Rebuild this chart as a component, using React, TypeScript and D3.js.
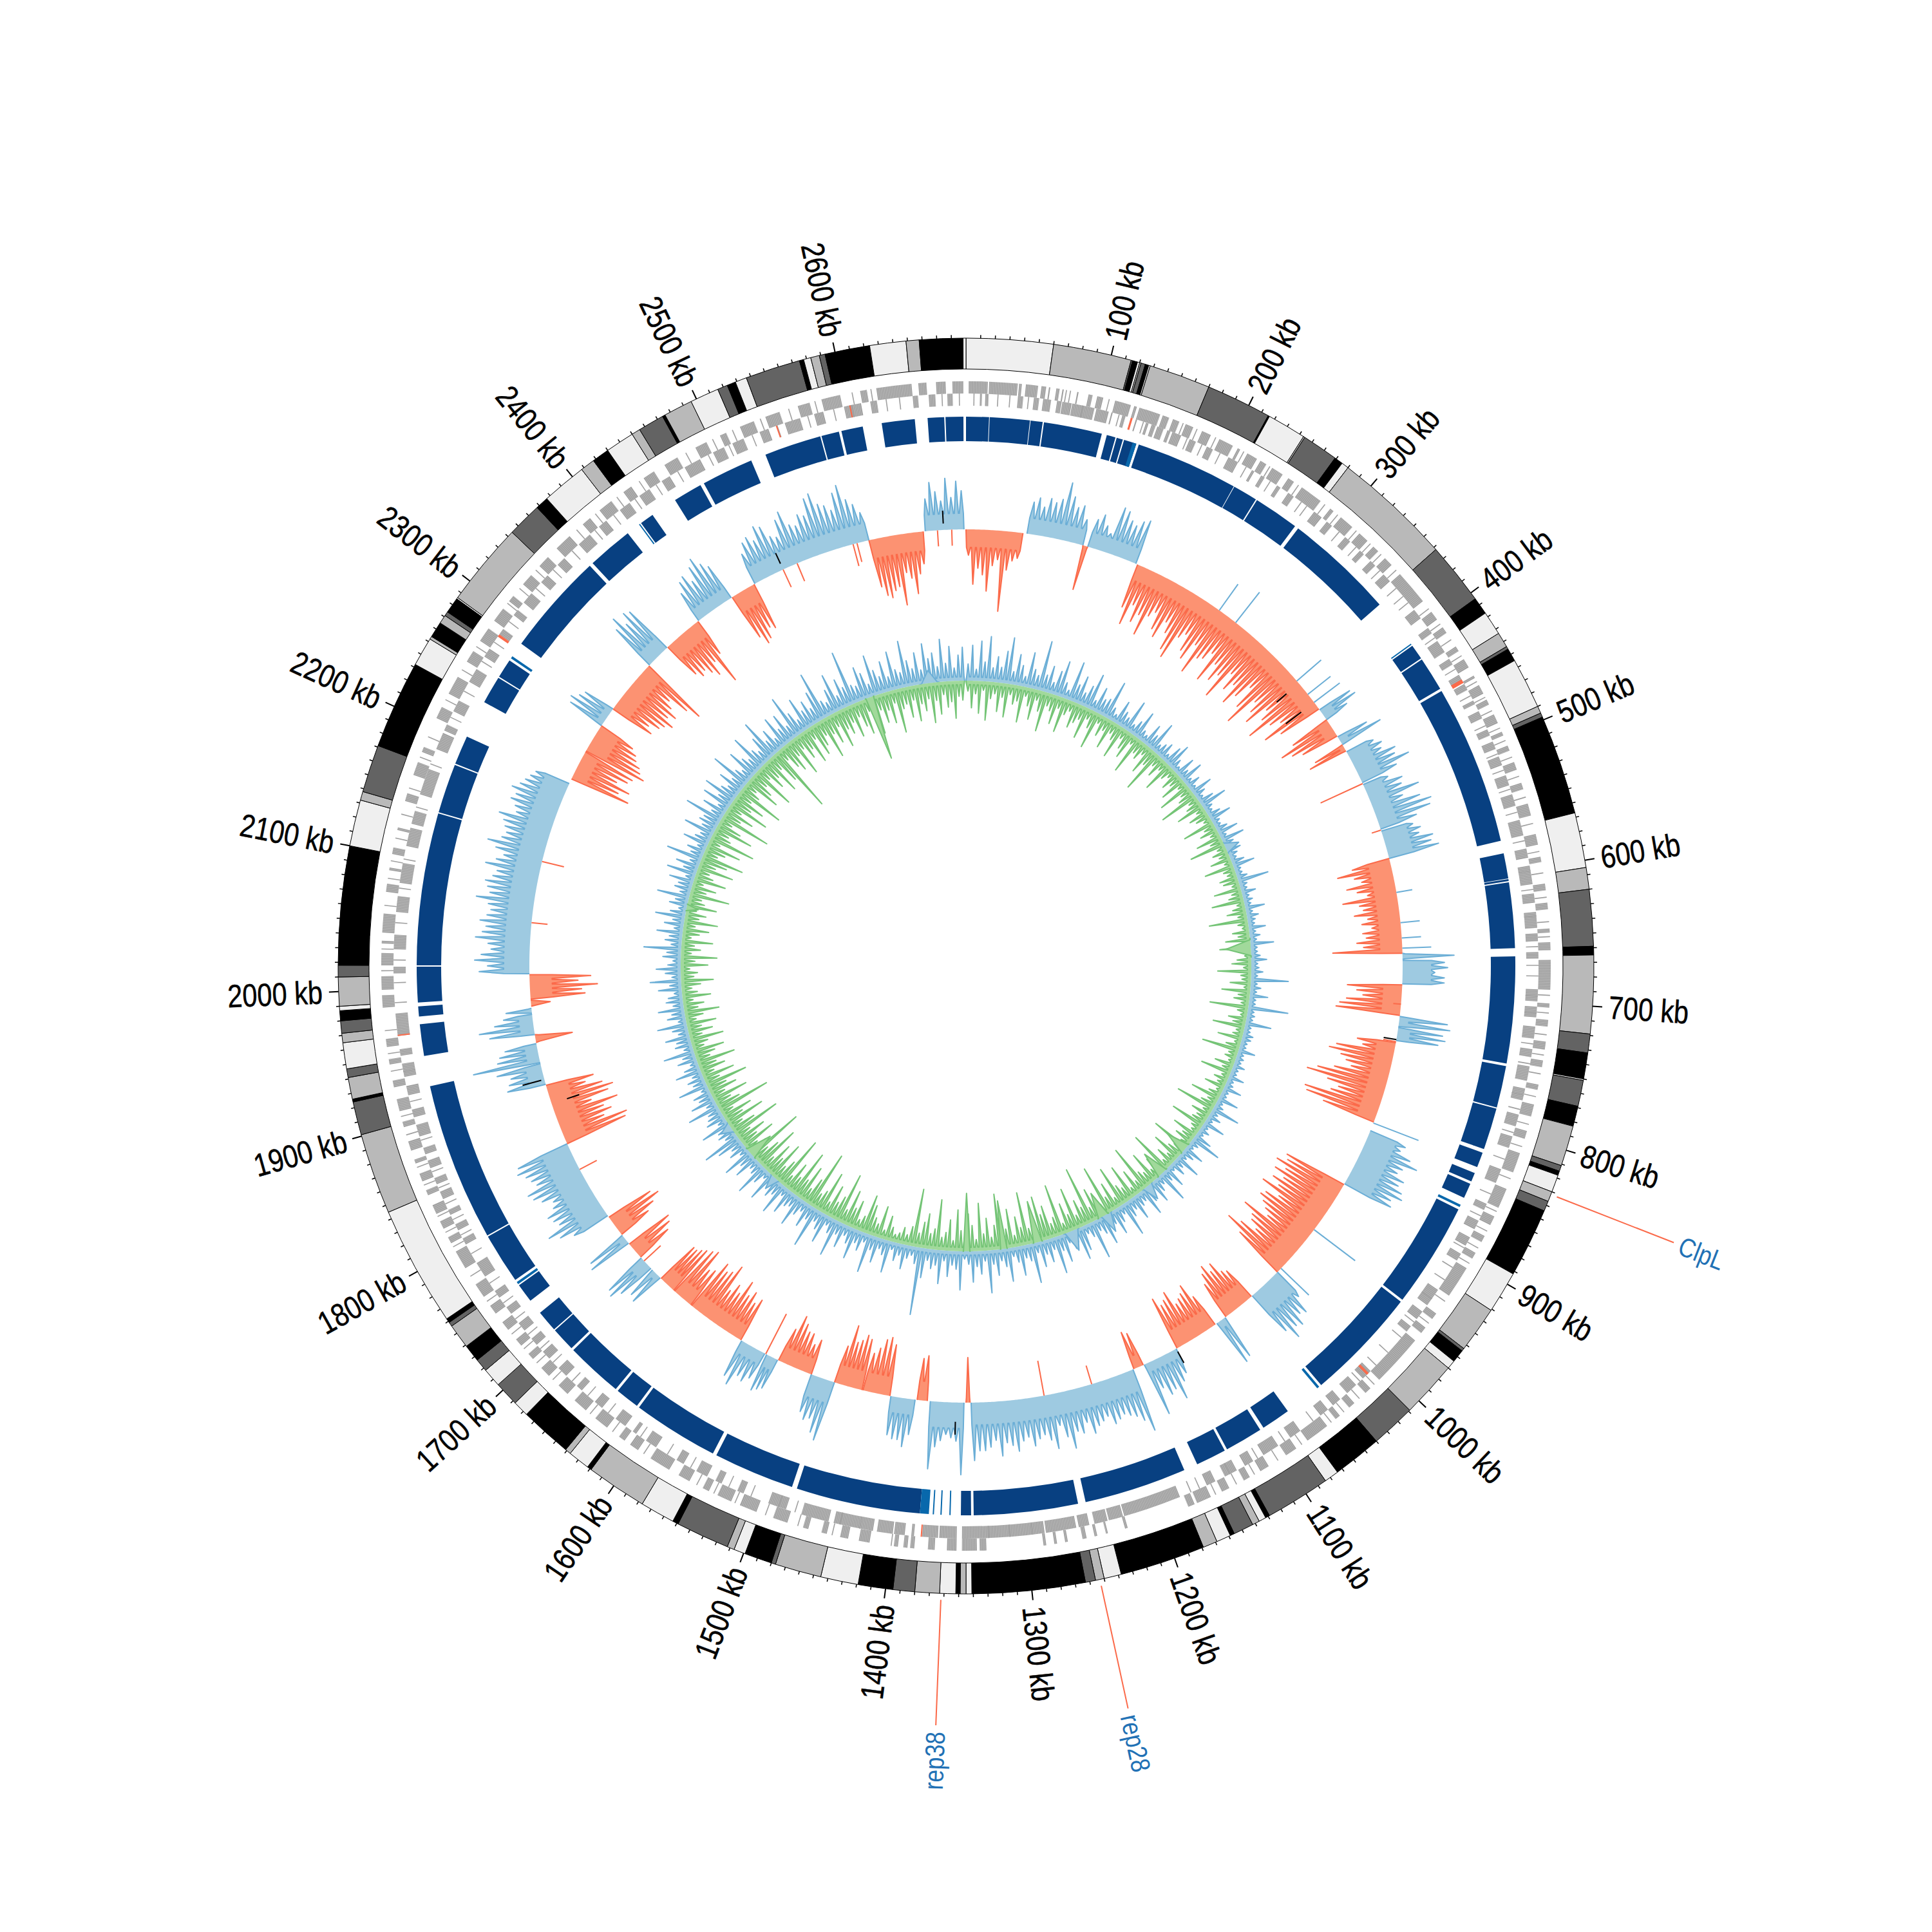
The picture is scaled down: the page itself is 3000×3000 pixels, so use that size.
import * as d3 from "d3";

const genomeKb = 2690;
const tickKb = d3.range(10, genomeKb, 10);
const labelKb = d3.range(100, 2700, 100);

// ideogram bands: edges in kb and shade index per band
const bandEdges = [0,60,114,115,118.5,120,121,124,126.5,127.5,170,215,216,243,244,269,275,280,362,405,417,433.5,444,446,455,490,495,498,567,605,620,659,665,719,732,750,751,769,783,811,815,818,830,837,844,892,921,953,955,964,970,1009,1040,1074,1084,1129,1132,1137,1142,1156,1159,1169,1179,1238,1250,1256,1263,1341,1345,1349,1352,1363,1380,1395,1419,1445,1477,1480,1499,1507,1512,1549,1553,1577,1619,1622,1637,1641,1677,1688,1705,1718,1727,1739,1756,1759,1762,1845,1901,1924,1926,1941,1947,1965,1971.5,1980,1987,1990,2010,2018,2100,2132,2138,2171,2232,2252,2254,2265,2271,2274,2285,2286,2344,2368,2377,2408,2418,2430,2450,2456,2474,2476,2496,2516,2523,2529,2537,2575,2578,2583,2589,2593,2624,2649,2658,2688,2690];
const bandShades = [0,1,2,3,0,1,2,3,0,1,2,3,0,1,2,3,0,1,2,3,0,1,2,3,0,1,2,3,0,1,2,3,1,2,3,0,2,3,1,2,3,0,1,2,3,0,1,2,3,0,1,2,3,0,2,3,0,1,2,3,0,1,3,0,1,2,3,0,1,3,0,1,2,3,0,1,2,3,0,1,2,3,0,1,3,0,1,3,0,2,0,2,3,1,2,3,0,1,2,3,1,2,0,1,2,3,0,1,2,3,0,1,2,3,0,1,3,1,2,3,0,1,2,3,0,1,3,0,1,2,3,1,0,2,3,0,2,3,0,1,2,3,0,1,3,0];
const shadeColors = ["#efefef", "#b9b9b9", "#636363", "#000000"];

// gene blocks, kb
const forwardGenes = [[2,16],[17,38],[39,41],[44,53],[55.5,59],[61,62],[66.5,69],[71,72],[82,83],[90.5,93.5],[97,101.5],[110.5,122.5],[125,127],[129,145],[147,152],[155,160],[165,171],[178,185],[192,203],[207,209],[215,223],[226,231],[236,245],[250,255],[262,279],[288,291],[298,309],[316,324],[330,335],[342,349],[358,384],[394,401],[408,413],[425,429],[436,443],[450,452],[458,465],[470,474],[482,489],[496,499],[507,511],[520,526],[536,541],[552,561],[575,583],[592,596],[612,617],[626,631],[645,648],[655,661],[668,690],[700,703],[712,717],[728,734],[742,747],[760,764],[775,784],[795,801],[812,827],[840,855],[862,869],[878,883],[892,897],[905,929],[945,950],[958,963],[970,1009],[1018,1023],[1034,1039],[1048,1052],[1060,1078],[1088,1097],[1112,1119],[1128,1133],[1145,1151],[1160,1171],[1173,1178],[1225,1227],[1240,1241.5],[1248,1250],[1256,1259],[1270,1272],[1278,1280],[1286,1288],[1330,1335],[1337,1348],[1352,1359],[1368,1373],[1383,1386],[1388,1391],[1395,1398],[1416,1424],[1432,1438],[1448,1452],[1462,1466],[1478,1489],[1502,1515],[1522,1533],[1540,1545],[1556,1565],[1573,1589],[1600,1607],[1612,1617],[1628,1639],[1648,1659],[1666,1675],[1685,1693],[1702,1707],[1715,1721],[1730,1737],[1745,1752],[1760,1771],[1785,1799],[1806,1811],[1818,1824],[1830,1837],[1845,1849],[1856,1862],[1870,1873],[1880,1887],[1898,1902],[1910,1919],[1928,1933],[1945,1949],[1958,1964],[1987,1996],[2000,2010],[2018,2027],[2034,2036],[2042,2056],[2072,2078],[2088,2090],[2100,2105],[2118,2120],[2140,2146],[2160,2170],[2178,2182],[2205,2214],[2225,2239],[2252,2261],[2270,2281],[2288,2299],[2306,2311],[2322,2331],[2340,2349],[2358,2371],[2384,2391],[2400,2411],[2422,2429],[2440,2449],[2458,2469],[2484,2493],[2504,2509],[2520,2531],[2540,2551],[2565,2574],[2583,2597],[2612,2617],[2624,2650],[2655,2661],[2668,2675],[2680,2688]];
const reverseGenes = [[10.5,12],[14.5,17],[39,43],[51,55],[58,64],[68.5,72],[72.5,79.5],[80,97],[98.5,108],[110,111],[118.5,121],[129,130],[137,139],[141.5,144.5],[146,151],[154,156.5],[158,165],[172,177],[186,191],[204,212],[224,226],[232,235],[246,249],[256,261],[280,287],[292,297],[310,315],[325,329],[336,341],[350,357],[385,393],[402,407],[414,424],[430,435],[444,449],[452,457],[466,469],[475,481],[490,495],[500,506],[512,519],[527,535],[542,551],[562,574],[584,591],[597,611],[618,625],[632,644],[648,654],[662,667],[690,699],[703,711],[718,727],[735,741],[748,759],[765,774],[785,794],[802,811],[828,839],[856,861],[870,877],[884,891],[898,904],[930,944],[950,957],[964,969],[1009,1017],[1024,1033],[1040,1047],[1052,1059],[1078,1087],[1098,1111],[1120,1127],[1134,1144],[1152,1159],[1181,1225],[1226,1237],[1238,1248],[1252,1260],[1262,1285],[1286,1348],[1352,1365],[1366,1378],[1384,1386],[1391,1399],[1400,1412],[1415,1445],[1449,1470],[1482,1496],[1516,1521],[1534,1539],[1546,1555],[1566,1572],[1590,1599],[1608,1611],[1618,1627],[1640,1647],[1660,1665],[1676,1684],[1694,1701],[1708,1714],[1722,1729],[1738,1744],[1753,1759],[1772,1784],[1800,1805],[1812,1817],[1825,1829],[1838,1844],[1850,1855],[1863,1869],[1874,1879],[1888,1897],[1903,1909],[1920,1927],[1934,1944],[1950,1955],[1965,1982],[2012,2017],[2030,2041],[2058,2070],[2080,2095],[2108,2122],[2125,2135],[2148,2168],[2184,2197],[2199,2204],[2215,2224],[2240,2251],[2262,2269],[2282,2287],[2300,2305],[2312,2321],[2332,2339],[2350,2357],[2372,2383],[2392,2399],[2412,2421],[2430,2439],[2450,2457],[2470,2483],[2494,2503],[2510,2519],[2532,2539],[2552,2564],[2575,2582],[2598,2611],[2618,2623],[2650,2654],[2662,2667],[2676,2680]];
const redGenes = [[125,126.5],[448,451],[1378,1379],[1011,1013],[2545,2546],[2602,2603],[2280,2282],[1965,1966]];
// short stray genes seen between the blocks: kb on forward, kb on reverse
const looseForward = [74,77,106,163,174,189,212,234,259,283,295,313,327,338,354,391,405,419,433,455,468,479,493,503,516,531,547,567,588,604,622,640,651,694,707,723,738,752,769,790,807,832,858,874,888,901,934,954,1014,1029,1044,1056,1083,1104,1124,1139,1156,1400,1444,1470,1495,1519,1536,1550,1595,1623,1644,1681,1698,1712,1726,1756,1778,1803,1815,1828,1853,1867,1892,1906,1940,1953,1970,2014,2030,2062,2082,2095,2112,2130,2150,2174,2190,2220,2245,2265,2304,2318,2336,2378,2396,2416,2436,2476,2498,2514,2536,2558,2578,2606,2620];
const looseReverse = [6,24,33,47,88,116,135,170,182,197,219,240,268,273,304,321,346,364,372,378,411,439,462,487,510,523,538,556,578,601,615,635,658,672,680,695,708,731,746,770,781,799,820,848,866,893,910,921,938,960,975,990,1003,1020,1066,1092,1116,1140,1165,1172,1295,1312,1328,1425,1440,1475,1488,1510,1528,1560,1580,1604,1634,1654,1670,1690,1704,1718,1733,1748,1766,1792,1808,1821,1834,1847,1860,1885,1915,1938,1990,2005,2022,2050,2076,2098,2138,2172,2210,2232,2258,2275,2294,2326,2345,2365,2388,2406,2426,2445,2464,2490,2507,2526,2546,2570,2590,2604,2630,2640,2672,2685];

// conserved blocks, kb
const conservedBlocks = [[0,18],[18.5,50],[50.5,60],[61,107],[111,118],[119,124],[125,135],[137,218],[218.5,238],[239,275],[278,365],[406,418],[419,446],[448,574],[584,604],[604.5,606],[607,658.6],[665,749],[751,784],[785,818],[821,833],[838,845],[847,859],[869,952],[954,1044],[1077,1100],[1103,1133],[1135,1159],[1170,1251],[1257,1339],[1341,1349],[1381,1479],[1483,1547],[1550,1618],[1620,1639],[1641,1686],[1688,1707],[1708,1725],[1737,1752],[1757,1797],[1798,1923],[1947,1972],[1978,1986],[1989,2017],[2018,2138],[2139,2178],[2179,2202],[2232,2254],[2255,2270],[2286,2367],[2370,2406],[2419,2430],[2451,2474],[2477,2518],[2530,2575],[2576,2590],[2592,2609],[2624,2650],[2660,2673],[2674,2688]];
const conservedThin = [[132,135],[404,405],[865,867],[1046,1048],[1357,1358],[1364,1365],[1370,1371],[1374,1381],[1753,1755],[2272,2274],[2417,2418]];

type MidSegment = [number, number, number, number, number[]];
// start kb, end kb, direction, fill depth, spike heights
const midSegments: MidSegment[] = [
  [0,56,-1,28,[40,85,60,70,95,55,45,125,60,45,40]],
  [60,116,1,25,[50,58,45,60,55,62,90,70,55,60,40]],
  [116,121,-1,4,[70]],
  [121,171,1,24,[45,55,40,30,75,72,60,55,65,70]],
  [173,403,-1,25,[70,95,60,85,70,100,65,55,80,90,60,75,100,110,70,60,85,95,65,110,80,75,60,105,70,95,80,115,65,90,75,105,85,60,95,120,70,85,100,65,80,110,75,60,95,70]],
  [404,416,1,20,[55,60,40]],
  [416,435,-1,20,[65,90,75,60]],
  [436,445,1,15,[50,70]],
  [445,452,-1,8,[50,62]],
  [453,487,1,35,[45,55,50,70,65,85,60]],
  [489,536,1,30,[40,60,55,80,50,75,90,85,60]],
  [538,566,1,40,[50,60,55,75,70,80]],
  [566,660,-1,35,[60,85,60,50,75,60,45,85,60,55,70,50,60,45,60,55,70,60,108]],
  [660,666,1,4,[80]],
  [667,690,1,45,[65,70,50,65,65]],
  [691,721,-1,30,[85,70,60,85,95,100]],
  [722,732,1,15,[75,80]],
  [733,746,1,20,[70,75,65]],
  [748,829,-1,30,[60,50,90,100,80,70,60,85,110,125,90,70,80,120,115,85]],
  [838,896,1,45,[60,55,75,90,70,65,80,75,85,90,75,80]],
  [897,1005,-1,35,[100,95,110,90,105,85,100,85,110,75,95,100,90,80,70,110,90,85,70,95,115,85]],
  [1005,1039,1,40,[50,75,70,85,80,95,75]],
  [1040,1072,-1,30,[55,60,80,70,85,75,60]],
  [1073,1083,1,12,[70,75]],
  [1085,1129,-1,30,[55,80,70,65,60,85,75,70,85]],
  [1130,1165,1,15,[40,50,75,55,60,45,85]],
  [1166,1176,-1,20,[55,60]],
  [1177,1340,1,35,[100,80,70,65,60,65,70,55,60,65,75,55,70,65,90,70,50,85,70,60,65,75,60,65,80,70,65,85,60,70,75,75,90]],
  [1341,1345,-1,8,[70]],
  [1347,1380,1,40,[112,60,55,50,60,70,105]],
  [1383,1393,-1,30,[70,65]],
  [1395,1419,1,25,[55,75,65,65,60]],
  [1420,1447,-1,30,[80,90,85,70,60]],
  [1448,1476,-1,30,[80,85,75,70,95,60]],
  [1476,1500,1,35,[95,85,65,70,60]],
  [1500,1535,-1,25,[55,45,60,60,70,80,55]],
  [1536,1548,1,20,[50,55,60]],
  [1550,1576,1,20,[45,55,50,70,60]],
  [1577,1636,-1,25,[70,60,75,65,85,60,70,55,95,80,75,85]],
  [1637,1658,-1,25,[65,60,90,85]],
  [1659,1676,-1,25,[80,75,70,70]],
  [1677,1688,1,10,[55,50]],
  [1690,1704,1,25,[60,75,70]],
  [1705,1722,-1,25,[60,70,75]],
  [1723,1733,1,12,[70,65]],
  [1734,1755,-1,28,[55,70,85,75]],
  [1757,1838,1,45,[60,80,95,70,75,80,65,60,75,85,90,70,75,80,90,85]],
  [1838,1899,-1,35,[100,105,70,85,75,100,60,90,100,85,60,75]],
  [1900,1921,1,25,[60,55,50,70]],
  [1922,1941,1,20,[105,65,60,50]],
  [1942,1950,-1,6,[58]],
  [1950,1970,1,22,[70,85,60,45]],
  [1971,1976,1,5,[40]],
  [1978,1984,-1,6,[30]],
  [1985,2009,-1,35,[85,80,105,75,95]],
  [2010,2202,1,40,[78,65,85,75,60,65,85,75,70,80,70,65,70,90,70,75,80,70,65,85,70,60,75,90,70,65,70,75,85,60,65,75,70,80,70,65,60,55]],
  [2207,2237,-1,25,[95,75,90,65,80,85]],
  [2238,2267,-1,35,[100,90,85,75,70,60]],
  [2267,2287,1,12,[60,65,55,50]],
  [2287,2342,-1,30,[70,60,75,80,90,75,85,70,60,90,110]],
  [2343,2367,1,25,[75,90,70,85,80]],
  [2368,2407,-1,28,[60,70,65,75,85,65,107,60]],
  [2408,2447,1,20,[50,65,70,55,75,85,70,60]],
  [2448,2473,-1,30,[75,90,85,70,75]],
  [2474,2594,1,28,[50,65,70,60,80,75,55,50,75,85,60,55,70,65,90,95,75,70,60,85,95,70,60,45]],
  [2594,2648,-1,30,[75,90,95,85,80,110,60,70,95,65,50]],
  [2650,2688,1,25,[50,75,60,45,80,50,75,60]],
];
// single spikes crossing a segment of the other sign: kb, height
const midSpikes = [[265,50],[285,60],[368,50],[385,45],[395,50],[488,-72],[537,-15],[600,25],[630,30],[645,30],[655,45],[710,-12],[747,-20],[830,75],[950,80],[1000,60],[1220,-30],[1268,-55],[1549,-70],[1700,-35],[1810,-30],[2060,-25],[2121,-35],[2505,-30],[2520,-30],[2578,-35],[2582,-30],[2662,-25],[2676,-25]];
const midBlackMarks = [[371,-25,-45],[395,-25,-55],[745,0,-20],[1130,5,25],[1355,30,50],[1880,-25,-45],[1905,5,35],[2505,10,28],[2668,10,30]];

// inner track spike heights every 6 kb from 0
const innerBlue = [
  26,55,18,62,30,70,22,40,24,50,72,20,48,32,16,55,30,22,78,26,42,18,38,56,24,14,62,28,44,20,
  34,56,16,40,24,28,60,20,12,38,24,18,50,14,24,44,16,12,35,22,48,14,20,26,12,30,40,18,10,32,
  16,36,12,22,10,34,18,10,24,42,14,10,20,34,12,10,18,32,10,36,16,10,22,14,10,20,34,10,10,16,
  48,12,10,22,10,14,10,30,10,18,12,10,26,10,16,10,36,10,10,14,24,10,12,18,10,58,10,16,10,28,
  10,10,62,10,12,10,40,10,10,16,14,10,10,26,10,12,10,18,10,10,24,10,12,28,10,10,32,10,14,44,
  12,20,10,34,10,16,10,28,48,14,10,32,20,12,40,16,24,10,34,18,50,14,22,36,12,26,44,16,20,38,
  18,26,54,14,24,40,20,12,46,26,18,60,22,14,38,50,20,28,16,44,24,58,18,36,22,40,16,62,26,20,
  46,24,14,52,28,18,40,22,66,16,36,24,48,20,12,60,28,22,40,16,52,24,30,18,46,105,26,14,20,38,
  18,28,12,50,24,16,40,22,60,14,30,20,48,26,16,38,20,58,24,14,46,28,18,64,22,38,16,26,48,20,
  24,40,14,50,22,30,18,46,12,26,52,20,16,38,24,48,14,28,20,40,60,18,26,22,46,14,30,24,20,50,
  16,38,22,28,12,46,20,26,16,40,24,12,30,20,48,14,26,22,38,16,24,46,12,28,20,40,16,26,22,12,
  36,18,48,14,24,38,20,12,28,22,58,16,26,20,40,14,30,18,46,24,12,28,20,50,16,26,22,38,14,46,
  22,36,16,56,20,28,14,40,24,18,48,22,30,26,60,20,38,16,46,24,52,28,20,40,22,62,26,18,48,30,
  22,58,28,20,40,64,24,38,18,50,26,46,22,68,36,20,52,28,40,24,48,76,26,20,38,60,22,46,30,85,
  28,24,52,40,20,64,38,26,48,22,60,30,24,72,40,26,50,22,62,38,46,24,66,28,54,20,40,52,
];
const innerGreen = [
  16,42,20,50,14,60,26,18,45,22,52,16,30,24,56,14,28,48,16,32,62,20,26,45,18,54,24,16,40,30,
  22,50,16,28,58,14,32,20,46,18,26,52,16,30,42,14,60,22,28,16,44,26,68,18,32,16,48,22,14,30,
  20,40,14,52,18,26,62,16,24,44,14,30,22,12,50,18,28,14,40,20,56,14,24,16,32,12,46,18,14,28,
  24,12,42,16,22,50,12,20,30,14,60,16,10,26,18,38,12,48,16,10,22,30,12,52,16,14,32,10,44,18,
  24,12,60,16,10,28,20,50,12,16,38,10,22,58,14,18,10,30,16,48,12,22,14,32,10,20,46,16,24,62,
  14,30,18,22,54,16,12,40,20,28,14,60,18,24,46,16,30,14,68,22,32,16,50,20,26,74,18,40,14,56,
  22,30,64,16,44,24,78,18,32,50,22,90,28,42,20,66,26,46,16,80,30,22,52,40,70,20,32,24,82,28,
  46,18,60,30,22,86,38,20,50,26,74,18,40,58,24,32,64,16,48,28,20,78,32,24,54,40,22,90,30,16,
  26,16,12,22,38,14,50,20,28,46,60,24,16,44,30,56,22,78,38,26,50,20,66,32,24,90,42,22,56,30,
  74,26,46,20,82,38,24,60,30,50,22,70,42,26,90,32,20,54,28,46,24,78,40,22,62,30,48,20,84,38,
  26,56,22,44,30,66,24,50,20,40,28,60,22,32,48,18,26,52,20,38,22,46,16,28,54,22,32,16,44,24,
  16,30,50,20,26,14,42,22,56,16,30,20,48,14,26,40,18,52,22,32,16,46,26,20,62,24,38,16,50,28,
  20,56,26,42,66,22,32,54,18,72,30,24,60,38,20,80,28,46,22,64,32,50,24,74,30,20,56,40,26,68,
  22,44,30,60,24,50,106,20,38,48,26,62,22,42,30,56,20,50,38,24,64,28,46,22,58,32,42,26,52,22,
  40,54,20,30,60,24,46,28,50,20,68,32,26,48,22,56,30,42,24,62,28,50,20,40,32,58,24,30,
];
const innerStepKb = 6;
const innerBlueFloor = 6;
const innerGreenFloor = 6;
// broad spikes that show as filled wedges: start kb, end kb, height
const greenWedges = [[1338,1350,90],[1282,1294,75],[1228,1244,65],[1120,1140,40],[1010,1030,40],[960,980,35],[2535,2550,100],[630,660,38],[1700,1722,40],[2100,2112,18]];
const blueWedges = [[1170,1196,32],[1115,1135,30],[1040,1060,25],[1650,1668,22],[1750,1770,18],[480,500,22],[2620,2650,20]];

const calloutKb = [832, 1253, 1362];
const calloutNames = ["ClpL", "rep28", "rep38"];

const size = 3000;
const center = 1500;
const labelFont = "'Liberation Sans', sans-serif";

const angle = d3.scaleLinear().domain([0, genomeKb]).range([0, 2 * Math.PI]);
const midRadius = d3.scaleLinear().domain([-130, 100]).range([548, 778]);
const innerRadius = d3.scaleLinear().domain([-110, 110]).range([333, 553]);

const arc = (start: number, end: number, r0: number, r1: number) =>
  d3.arc()({ startAngle: angle(start), endAngle: angle(end), innerRadius: r0, outerRadius: r1 }) as string;

const polar = (kb: number, r: number): [number, number] => {
  const a = angle(kb) - Math.PI / 2;
  return [r * Math.cos(a), r * Math.sin(a)];
};

// spikes alternate with a floor value so the fill keeps a band next to the baseline
const zigzag = (start: number, end: number, floor: number, heights: number[], waist = 0.1) => {
  const x = d3.scaleLinear().domain([0, heights.length]).range([start, end]);
  const pts: [number, number][] = [[start, 0]];
  heights.forEach((h, i) => {
    pts.push([x(i + waist), floor], [x(i + 0.5), h], [x(i + 1 - waist), floor]);
  });
  pts.push([end, 0]);
  return pts;
};

const radialArea = (r: d3.ScaleLinear<number, number>, dir: number) =>
  d3
    .areaRadial<[number, number]>()
    .angle((d) => angle(d[0]))
    .innerRadius(r(0))
    .outerRadius((d) => r(dir * d[1]));

const radialLine = (r: d3.ScaleLinear<number, number>, dir: number) =>
  d3
    .lineRadial<[number, number]>()
    .angle((d) => angle(d[0]))
    .radius((d) => r(dir * d[1]));

const BLUE = { fill: "#9ecae1", line: "#6baed6" };
const RED = { fill: "#fc9272", line: "#fb6a4a" };
const GREEN = { fill: "#a1d99b", line: "#74c476" };

const SpikeTrack = ({ pts, dir, r, color }: any) => (
  <g>
    <path d={radialArea(r, dir)(pts) as string} fill={color.fill} stroke="none" />
    <path d={radialLine(r, dir)(pts) as string} fill="none" stroke={color.line} strokeWidth={2} strokeLinejoin="round" />
  </g>
);

const Genes = ({ blocks, loose, r0, r1 }: any) => (
  <g>
    {blocks.map(([a, b]: number[], i: number) => (
      <path key={i} d={arc(a, b, r0, r1)} fill="#a0a0a0" />
    ))}
    {blocks.flatMap(([a, b]: number[], i: number) =>
      d3.range(a + 1, b, 1.2).map((kb) => {
        const [x0, y0] = polar(kb, r0);
        const [x1, y1] = polar(kb, r1);
        return <line key={`${i}-${kb}`} x1={x0} y1={y0} x2={x1} y2={y1} stroke="#fff" strokeOpacity={0.35} strokeWidth={0.8} />;
      })
    )}
    {loose.map((kb: number) => {
      const [x0, y0] = polar(kb, r0);
      const [x1, y1] = polar(kb, r1);
      return <line key={`l${kb}`} x1={x0} y1={y0} x2={x1} y2={y1} stroke="#a0a0a0" strokeWidth={1.6} />;
    })}
  </g>
);

export default function App() {
  return (
    <svg width={size} height={size} viewBox={`0 0 ${size} ${size}`} style={{ position: "absolute", left: 0, top: 0, background: "#fff" }}>
      <g transform={`translate(${center},${center})`}>
        {/* ideogram */}
        {bandShades.map((s, i) => (
          <path key={i} d={arc(bandEdges[i], bandEdges[i + 1], 927, 975)} fill={shadeColors[s]} stroke="#000" strokeWidth={1} />
        ))}
        {tickKb.map((kb) => {
          const major = kb % 100 === 0;
          const [x0, y0] = polar(kb, 975);
          const [x1, y1] = polar(kb, major ? 990 : 980);
          return <line key={kb} x1={x0} y1={y0} x2={x1} y2={y1} stroke="#000" strokeWidth={major ? 2 : 1.5} />;
        })}
        {labelKb.map((kb) => {
          const deg = (angle(kb) * 180) / Math.PI - 90;
          const left = kb > genomeKb / 2;
          const [x, y] = polar(kb, 1000);
          return (
            <text
              key={kb}
              transform={`translate(${x},${y}) rotate(${left ? deg + 180 : deg}) scale(0.83,1)`}
              textAnchor={left ? "end" : "start"}
              dominantBaseline="central"
              fontFamily={labelFont}
              fontSize={50}
              fill="#000"
              stroke="#000"
              strokeWidth={0.5}
            >
              {kb} kb
            </text>
          );
        })}

        {/* genes */}
        <Genes blocks={forwardGenes} loose={looseForward} r0={889} r1={908} />
        <Genes blocks={reverseGenes} loose={looseReverse} r0={870} r1={889} />
        {redGenes.map(([a, b], i) => (
          <path key={i} d={arc(a, b, 870, 889)} fill="#fb6a4a" />
        ))}

        {/* conserved blocks */}
        {conservedBlocks.map(([a, b], i) => (
          <path key={i} d={arc(a, b, 815, 853)} fill="#084081" />
        ))}
        {conservedThin.map(([a, b], i) => (
          <path key={i} d={arc(a, b, 815, 853)} fill="#0868ac" />
        ))}

        {/* middle track */}
        {midSegments.map(([a, b, dir, floor, heights], i) => (
          <SpikeTrack key={i} pts={zigzag(a, b, floor, heights)} dir={dir} r={midRadius} color={dir > 0 ? BLUE : RED} />
        ))}
        {midSpikes.map(([kb, h], i) => {
          const [x0, y0] = polar(kb, midRadius(0));
          const [x1, y1] = polar(kb, midRadius(h));
          return <line key={i} x1={x0} y1={y0} x2={x1} y2={y1} stroke={h > 0 ? BLUE.line : RED.line} strokeWidth={2} />;
        })}
        {midBlackMarks.map(([kb, a, b], i) => {
          const [x0, y0] = polar(kb, midRadius(a));
          const [x1, y1] = polar(kb, midRadius(b));
          return <line key={i} x1={x0} y1={y0} x2={x1} y2={y1} stroke="#000" strokeWidth={2} />;
        })}

        {/* inner track */}
        <SpikeTrack pts={zigzag(0, innerBlue.length * innerStepKb, innerBlueFloor, innerBlue, 0.15)} dir={1} r={innerRadius} color={BLUE} />
        {blueWedges.map(([a, b, h], i) => (
          <SpikeTrack key={i} pts={zigzag(a, b, 0, [h])} dir={1} r={innerRadius} color={BLUE} />
        ))}
        <SpikeTrack pts={zigzag(0, innerGreen.length * innerStepKb, innerGreenFloor, innerGreen, 0.15)} dir={-1} r={innerRadius} color={GREEN} />
        {greenWedges.map(([a, b, h], i) => (
          <SpikeTrack key={i} pts={zigzag(a, b, 0, [h])} dir={-1} r={innerRadius} color={GREEN} />
        ))}

        {/* callouts */}
        {calloutKb.map((kb, i) => {
          const deg = (angle(kb) * 180) / Math.PI - 90;
          const left = kb > genomeKb / 2;
          const [x0, y0] = polar(kb, 985);
          const [x1, y1] = polar(kb, 1180);
          const [tx, ty] = polar(kb, 1190);
          return (
            <g key={kb}>
              <line x1={x0} y1={y0} x2={x1} y2={y1} stroke="#fb6a4a" strokeWidth={2} />
              <text
                transform={`translate(${tx},${ty}) rotate(${left ? deg + 180 : deg}) scale(0.84,1)`}
                textAnchor={left ? "end" : "start"}
                dominantBaseline="central"
                fontFamily={labelFont}
                fontSize={42}
                fill="#2171b5"
              >
                {calloutNames[i]}
              </text>
            </g>
          );
        })}
      </g>
    </svg>
  );
}
